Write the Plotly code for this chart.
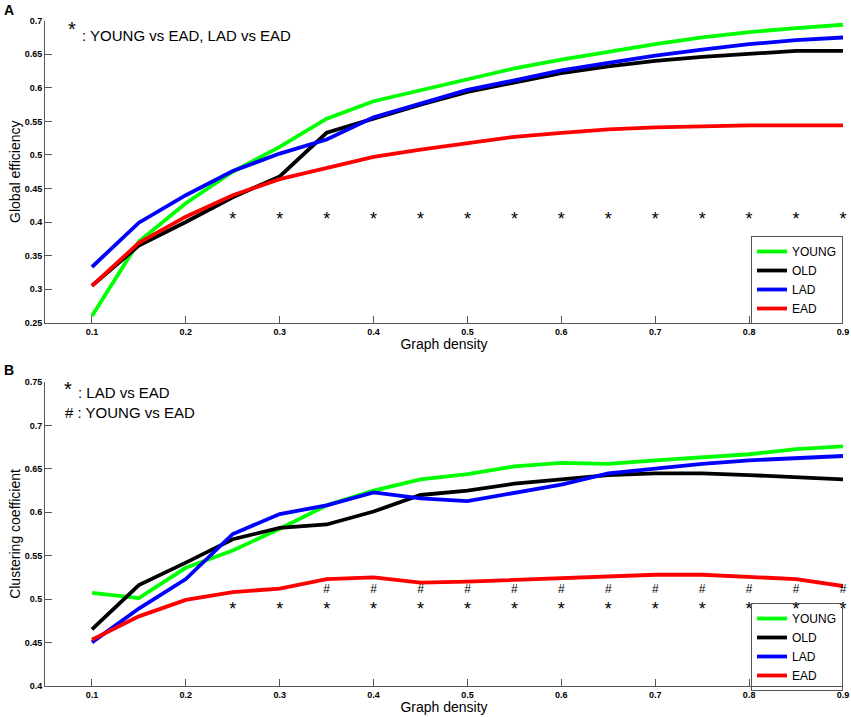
import plotly.graph_objects as go

density = [0.1, 0.15, 0.2, 0.25, 0.3, 0.35, 0.4, 0.45, 0.5, 0.55, 0.6, 0.65, 0.7, 0.75, 0.8, 0.85, 0.9]
groups = ["YOUNG", "OLD", "LAD", "EAD"]
colors = {"YOUNG": "#00ff00", "OLD": "#000000", "LAD": "#0000ff", "EAD": "#ff0000"}

# panel A: global efficiency
eff_young = [0.260, 0.371, 0.428, 0.475, 0.512, 0.554, 0.580, 0.596, 0.613, 0.629, 0.642, 0.654, 0.665, 0.675, 0.683, 0.689, 0.694]
eff_old = [0.305, 0.365, 0.400, 0.437, 0.468, 0.533, 0.554, 0.575, 0.594, 0.608, 0.622, 0.632, 0.640, 0.646, 0.651, 0.655, 0.655]
eff_lad = [0.333, 0.399, 0.440, 0.476, 0.502, 0.523, 0.556, 0.576, 0.597, 0.611, 0.626, 0.637, 0.648, 0.657, 0.665, 0.671, 0.675]
eff_ead = [0.305, 0.369, 0.408, 0.440, 0.464, 0.481, 0.497, 0.508, 0.517, 0.527, 0.533, 0.538, 0.541, 0.543, 0.544, 0.544, 0.544]

# panel B: clustering coefficient
clu_young = [0.507, 0.501, 0.536, 0.556, 0.581, 0.608, 0.625, 0.638, 0.644, 0.653, 0.657, 0.656, 0.660, 0.663, 0.667, 0.673, 0.676]
clu_old = [0.465, 0.516, 0.542, 0.569, 0.582, 0.586, 0.601, 0.620, 0.625, 0.633, 0.638, 0.643, 0.645, 0.645, 0.643, 0.641, 0.638]
clu_lad = [0.450, 0.489, 0.523, 0.575, 0.598, 0.608, 0.623, 0.616, 0.613, 0.623, 0.632, 0.645, 0.651, 0.656, 0.660, 0.663, 0.665]
clu_ead = [0.453, 0.480, 0.499, 0.508, 0.512, 0.523, 0.525, 0.519, 0.520, 0.522, 0.525, 0.526, 0.528, 0.528, 0.526, 0.523, 0.515]

# significance marks
star_x_a = [0.25, 0.3, 0.35, 0.4, 0.45, 0.5, 0.55, 0.6, 0.65, 0.7, 0.75, 0.8, 0.85, 0.9]
star_x_b = [0.25, 0.3, 0.35, 0.4, 0.45, 0.5, 0.55, 0.6, 0.65, 0.7, 0.75, 0.8, 0.85, 0.9]
hash_x_b = [0.35, 0.4, 0.45, 0.5, 0.55, 0.6, 0.65, 0.7, 0.75, 0.8, 0.85, 0.9]
star_y_a = 0.403
star_y_b = 0.487
hash_y_b = 0.510

x_ticks = [0.1, 0.2, 0.3, 0.4, 0.5, 0.6, 0.7, 0.8, 0.9]
y_ticks_a = [0.25, 0.3, 0.35, 0.4, 0.45, 0.5, 0.55, 0.6, 0.65, 0.7]
y_ticks_b = [0.4, 0.45, 0.5, 0.55, 0.6, 0.65, 0.7, 0.75]

W, H = 851, 717
font = "Liberation Sans, Arial, sans-serif"

fig = go.Figure()

eff = {"YOUNG": eff_young, "OLD": eff_old, "LAD": eff_lad, "EAD": eff_ead}
clu = {"YOUNG": clu_young, "OLD": clu_old, "LAD": clu_lad, "EAD": clu_ead}

for g in groups:
    fig.add_trace(go.Scatter(x=density, y=eff[g], mode="lines", name=g,
                             line=dict(color=colors[g], width=3.8),
                             xaxis="x", yaxis="y", legend="legend"))
for g in groups:
    fig.add_trace(go.Scatter(x=density, y=clu[g], mode="lines", name=g,
                             line=dict(color=colors[g], width=3.8),
                             xaxis="x2", yaxis="y2", legend="legend2"))

fig.add_trace(go.Scatter(x=star_x_a, y=[star_y_a] * len(star_x_a), mode="text", text=["*"] * len(star_x_a),
                         textfont=dict(size=18, color="black", family=font), showlegend=False,
                         xaxis="x", yaxis="y", cliponaxis=False))
fig.add_trace(go.Scatter(x=star_x_b, y=[star_y_b] * len(star_x_b), mode="text", text=["*"] * len(star_x_b),
                         textfont=dict(size=18, color="black", family=font), showlegend=False,
                         xaxis="x2", yaxis="y2", cliponaxis=False))
fig.add_trace(go.Scatter(x=hash_x_b, y=[hash_y_b] * len(hash_x_b), mode="text", text=["#"] * len(hash_x_b),
                         textfont=dict(size=12, color="black", family=font), showlegend=False,
                         xaxis="x2", yaxis="y2", cliponaxis=False))

x_dom = [45 / W, 843 / W]
ax_common = dict(showline=True, linecolor="#555555", linewidth=1, ticks="inside", ticklen=7,
                 tickcolor="#555555", showgrid=False, zeroline=False, mirror=False, automargin=False,
                 tickfont=dict(size=9, family=font, color="black"))


def bold(vals):
    return ["<b>%g</b>" % v for v in vals]


fig.update_layout(
    width=W, height=H,
    margin=dict(l=0, r=0, t=0, b=0, pad=0, autoexpand=False),
    plot_bgcolor="white", paper_bgcolor="white",
    font=dict(family=font, color="black"),
    xaxis=dict(domain=x_dom, range=[0.05, 0.9], tickvals=x_ticks, ticktext=bold(x_ticks),
               anchor="y", title=dict(text="Graph density", font=dict(size=14), standoff=0), **ax_common),
    yaxis=dict(domain=[1 - 322.7 / H, 1 - 20.7 / H], range=[0.25, 0.7], tickvals=y_ticks_a, ticktext=bold(y_ticks_a),
               anchor="x", title=dict(text="Global efficiency", font=dict(size=14), standoff=0), **ax_common),
    xaxis2=dict(domain=x_dom, range=[0.05, 0.9], tickvals=x_ticks, ticktext=bold(x_ticks),
                anchor="y2", title=dict(text="Graph density", font=dict(size=14), standoff=0), **ax_common),
    yaxis2=dict(domain=[1 - 685.7 / H, 1 - 382.3 / H], range=[0.4, 0.75], tickvals=y_ticks_b, ticktext=bold(y_ticks_b),
                anchor="x2", title=dict(text="Clustering coefficient", font=dict(size=14), standoff=0), **ax_common),
    legend=dict(x=843 / W, xanchor="right", y=1 - 236 / H, yanchor="top",
                bordercolor="#555555", borderwidth=1, bgcolor="white",
                font=dict(size=12, family=font), tracegroupgap=0, itemwidth=30),
    legend2=dict(x=843 / W, xanchor="right", y=1 - 603 / H, yanchor="top",
                 bordercolor="#555555", borderwidth=1, bgcolor="rgba(255,255,255,0)",
                 font=dict(size=12, family=font), tracegroupgap=0, itemwidth=30),
)

annotations = [
    dict(text="<b>A</b>", x=2 / W, y=1 - 0 / H, xanchor="left", yanchor="top", font=dict(size=14)),
    dict(text="<b>B</b>", x=2 / W, y=1 - 360 / H, xanchor="left", yanchor="top", font=dict(size=14)),
    dict(text="*", x=66 / W, y=1 - 16 / H, xanchor="left", yanchor="top", font=dict(size=20)),
    dict(text=": YOUNG vs EAD, LAD vs EAD", x=80 / W, y=1 - 25 / H, xanchor="left", yanchor="top", font=dict(size=15)),
    dict(text="*", x=62 / W, y=1 - 376 / H, xanchor="left", yanchor="top", font=dict(size=20)),
    dict(text=": LAD vs EAD", x=76 / W, y=1 - 382 / H, xanchor="left", yanchor="top", font=dict(size=15)),
    dict(text="# : YOUNG vs EAD", x=63 / W, y=1 - 402 / H, xanchor="left", yanchor="top", font=dict(size=15)),
]
for a in annotations:
    a.update(xref="paper", yref="paper", showarrow=False)
fig.update_layout(annotations=annotations)

# the page has a default 8px body margin; drop it so the figure fills the window
fig.write_html("out.html", config={"displayModeBar": False},
               post_script="document.body.style.margin='0px';")
